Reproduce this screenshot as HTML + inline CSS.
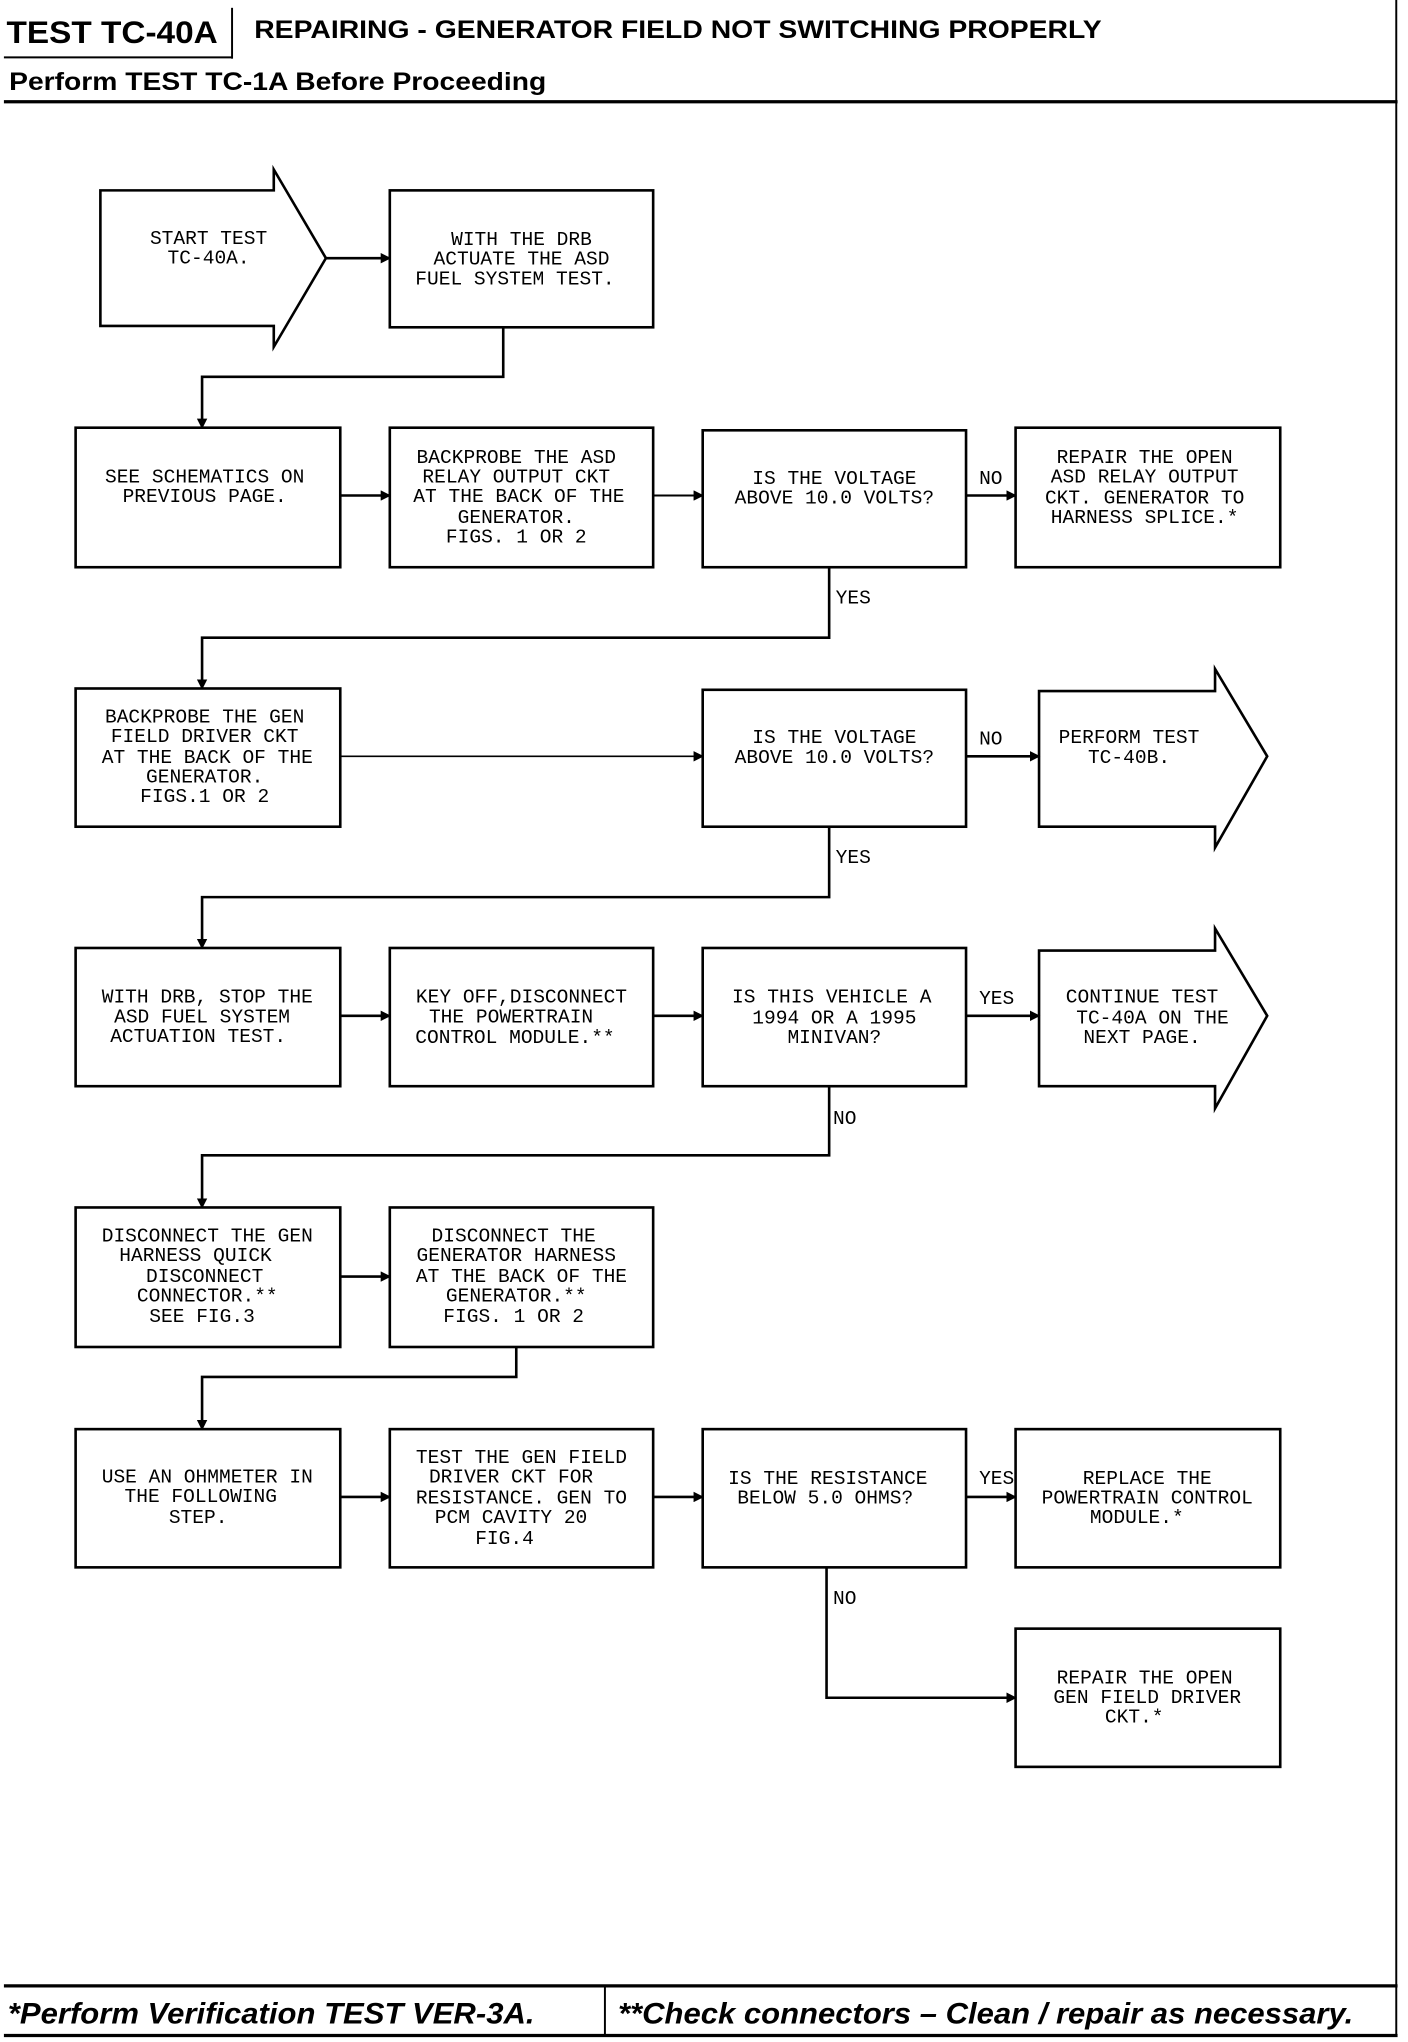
<!DOCTYPE html>
<html><head><meta charset="utf-8"><style>
html,body{margin:0;padding:0;background:#fff;}
svg{display:block;}
.t{font-family:"Liberation Mono",monospace;font-size:15px;text-anchor:middle;fill:#000;}
.l{font-family:"Liberation Mono",monospace;font-size:15px;fill:#000;}
.h{font-family:"Liberation Sans",sans-serif;font-weight:bold;fill:#000;}
</style></head><body>
<svg width="1408" height="2042" viewBox="0 0 1080 1566" preserveAspectRatio="none" xmlns="http://www.w3.org/2000/svg">
<defs><marker id="a" markerWidth="8" markerHeight="8" refX="7" refY="4" orient="auto" markerUnits="userSpaceOnUse"><path d="M0,0 L8,4 L0,8 z" fill="#000"/></marker></defs>
<rect width="1080" height="1566" fill="#fff"/>
<!-- header -->
<text class="h" x="5" y="33" font-size="24" textLength="162" lengthAdjust="spacingAndGlyphs">TEST TC-40A</text>
<line x1="178" y1="6" x2="178" y2="45" stroke="#000" stroke-width="1.5"/>
<line x1="3" y1="44" x2="178" y2="44" stroke="#000" stroke-width="1.5"/>
<text class="h" x="195" y="29" font-size="19" textLength="650" lengthAdjust="spacingAndGlyphs">REPAIRING - GENERATOR FIELD NOT SWITCHING PROPERLY</text>
<text class="h" x="7" y="69" font-size="19" textLength="412" lengthAdjust="spacingAndGlyphs">Perform TEST TC-1A Before Proceeding</text>
<line x1="3" y1="78" x2="1072" y2="78" stroke="#000" stroke-width="2.5"/>
<line x1="1071" y1="0" x2="1071" y2="1562" stroke="#000" stroke-width="1.5"/>
<!-- footer -->
<line x1="3" y1="1523" x2="1072" y2="1523" stroke="#000" stroke-width="2.5"/>
<line x1="3" y1="1561" x2="1072" y2="1561" stroke="#000" stroke-width="2.5"/>
<line x1="464" y1="1523" x2="464" y2="1561" stroke="#000" stroke-width="1.5"/>
<text class="h" x="6" y="1552" font-size="23" font-style="italic" textLength="404" lengthAdjust="spacingAndGlyphs">*Perform Verification TEST VER-3A.</text>
<text class="h" x="474" y="1552" font-size="23" font-style="italic" textLength="564" lengthAdjust="spacingAndGlyphs">**Check connectors – Clean / repair as necessary.</text>

<g fill="none" stroke="#000" stroke-width="2">
<!-- row0 -->
<path d="M77,146 L210,146 L210,130 L250,198 L210,266 L210,250 L77,250 Z"/>
<rect x="299" y="146" width="202" height="105"/>
<line x1="250" y1="198" x2="299" y2="198" marker-end="url(#a)"/>
<polyline points="386,251 386,289 155,289 155,328" marker-end="url(#a)"/>
<!-- row1 -->
<rect x="58" y="328" width="203" height="107"/>
<rect x="299" y="328" width="202" height="107"/>
<rect x="539" y="330" width="202" height="105"/>
<rect x="779" y="328" width="203" height="107"/>
<line x1="261" y1="380" x2="299" y2="380" marker-end="url(#a)"/>
<line x1="501" y1="380" x2="539" y2="380" marker-end="url(#a)" stroke-width="1.5"/>
<line x1="741" y1="380" x2="779" y2="380" marker-end="url(#a)"/>
<polyline points="636,435 636,489 155,489 155,528" marker-end="url(#a)"/>
<!-- row2 -->
<rect x="58" y="528" width="203" height="106"/>
<rect x="539" y="529" width="202" height="105"/>
<path d="M797,530 L932,530 L932,513 L972,580 L932,650 L932,634 L797,634 Z"/>
<line x1="261" y1="580" x2="539" y2="580" marker-end="url(#a)" stroke-width="1.2"/>
<line x1="741" y1="580" x2="797" y2="580" marker-end="url(#a)"/>
<polyline points="636,634 636,688 155,688 155,727" marker-end="url(#a)"/>
<!-- row3 -->
<rect x="58" y="727" width="203" height="106"/>
<rect x="299" y="727" width="202" height="106"/>
<rect x="539" y="727" width="202" height="106"/>
<path d="M797,729 L932,729 L932,712 L972,779 L932,850 L932,833 L797,833 Z"/>
<line x1="261" y1="779" x2="299" y2="779" marker-end="url(#a)"/>
<line x1="501" y1="779" x2="539" y2="779" marker-end="url(#a)"/>
<line x1="741" y1="779" x2="797" y2="779" marker-end="url(#a)"/>
<polyline points="636,833 636,886 155,886 155,926" marker-end="url(#a)"/>
<!-- row4 -->
<rect x="58" y="926" width="203" height="107"/>
<rect x="299" y="926" width="202" height="107"/>
<line x1="261" y1="979" x2="299" y2="979" marker-end="url(#a)"/>
<polyline points="396,1033 396,1056 155,1056 155,1096" marker-end="url(#a)"/>
<!-- row5 -->
<rect x="58" y="1096" width="203" height="106"/>
<rect x="299" y="1096" width="202" height="106"/>
<rect x="539" y="1096" width="202" height="106"/>
<rect x="779" y="1096" width="203" height="106"/>
<line x1="261" y1="1148" x2="299" y2="1148" marker-end="url(#a)"/>
<line x1="501" y1="1148" x2="539" y2="1148" marker-end="url(#a)"/>
<line x1="741" y1="1148" x2="779" y2="1148" marker-end="url(#a)"/>
<polyline points="634,1202 634,1302 779,1302" marker-end="url(#a)"/>
<rect x="779" y="1249" width="203" height="106"/>
</g>

<g class="t">
<text x="160" y="187">START TEST</text><text x="160" y="202">TC-40A.</text>
<text x="400" y="188">WITH THE DRB</text><text x="400" y="203">ACTUATE THE ASD</text><text x="395" y="218">FUEL SYSTEM TEST.</text>

<text x="157" y="370">SEE SCHEMATICS ON</text><text x="157" y="385">PREVIOUS PAGE.</text>
<text x="396" y="355">BACKPROBE THE ASD</text><text x="396" y="370">RELAY OUTPUT CKT</text><text x="398" y="385">AT THE BACK OF THE</text><text x="396" y="401">GENERATOR.</text><text x="396" y="416">FIGS. 1 OR 2</text>
<text x="640" y="371">IS THE VOLTAGE</text><text x="640" y="386">ABOVE 10.0 VOLTS?</text>
<text x="878" y="355">REPAIR THE OPEN</text><text x="878" y="370">ASD RELAY OUTPUT</text><text x="878" y="386">CKT. GENERATOR TO</text><text x="878" y="401">HARNESS SPLICE.*</text>

<text x="157" y="554">BACKPROBE THE GEN</text><text x="157" y="569">FIELD DRIVER CKT</text><text x="159" y="585">AT THE BACK OF THE</text><text x="157" y="600">GENERATOR.</text><text x="157" y="615">FIGS.1 OR 2</text>
<text x="640" y="570">IS THE VOLTAGE</text><text x="640" y="585">ABOVE 10.0 VOLTS?</text>
<text x="866" y="570">PERFORM TEST</text><text x="866" y="585">TC-40B.</text>

<text x="159" y="769">WITH DRB, STOP THE</text><text x="155" y="784">ASD FUEL SYSTEM</text><text x="152" y="799">ACTUATION TEST.</text>
<text x="400" y="769">KEY OFF,DISCONNECT</text><text x="392" y="784">THE POWERTRAIN</text><text x="395" y="800">CONTROL MODULE.**</text>
<text x="638" y="769">IS THIS VEHICLE A</text><text x="640" y="785">1994 OR A 1995</text><text x="640" y="800">MINIVAN?</text>
<text x="876" y="769">CONTINUE TEST</text><text x="884" y="785">TC-40A ON THE</text><text x="876" y="800">NEXT PAGE.</text>

<text x="159" y="952">DISCONNECT THE GEN</text><text x="150" y="967">HARNESS QUICK</text><text x="157" y="983">DISCONNECT</text><text x="159" y="998">CONNECTOR.**</text><text x="155" y="1014">SEE FIG.3</text>
<text x="394" y="952">DISCONNECT THE</text><text x="396" y="967">GENERATOR HARNESS</text><text x="400" y="983">AT THE BACK OF THE</text><text x="396" y="998">GENERATOR.**</text><text x="394" y="1014">FIGS. 1 OR 2</text>

<text x="159" y="1137">USE AN OHMMETER IN</text><text x="154" y="1152">THE FOLLOWING</text><text x="152" y="1168">STEP.</text>
<text x="400" y="1122">TEST THE GEN FIELD</text><text x="392" y="1137">DRIVER CKT FOR</text><text x="400" y="1153">RESISTANCE. GEN TO</text><text x="392" y="1168">PCM CAVITY 20</text><text x="387" y="1184">FIG.4</text>
<text x="635" y="1138">IS THE RESISTANCE</text><text x="633" y="1153">BELOW 5.0 OHMS?</text>
<text x="880" y="1138">REPLACE THE</text><text x="880" y="1153">POWERTRAIN CONTROL</text><text x="872" y="1168">MODULE.*</text>
<text x="878" y="1291">REPAIR THE OPEN</text><text x="880" y="1306">GEN FIELD DRIVER</text><text x="870" y="1321">CKT.*</text>
</g>
<g class="l">
<text x="751" y="371">NO</text>
<text x="641" y="463">YES</text>
<text x="751" y="571">NO</text>
<text x="641" y="662">YES</text>
<text x="751" y="770">YES</text>
<text x="639" y="862">NO</text>
<text x="751" y="1138">YES</text>
<text x="639" y="1230">NO</text>
</g>
</svg>
</body></html>
